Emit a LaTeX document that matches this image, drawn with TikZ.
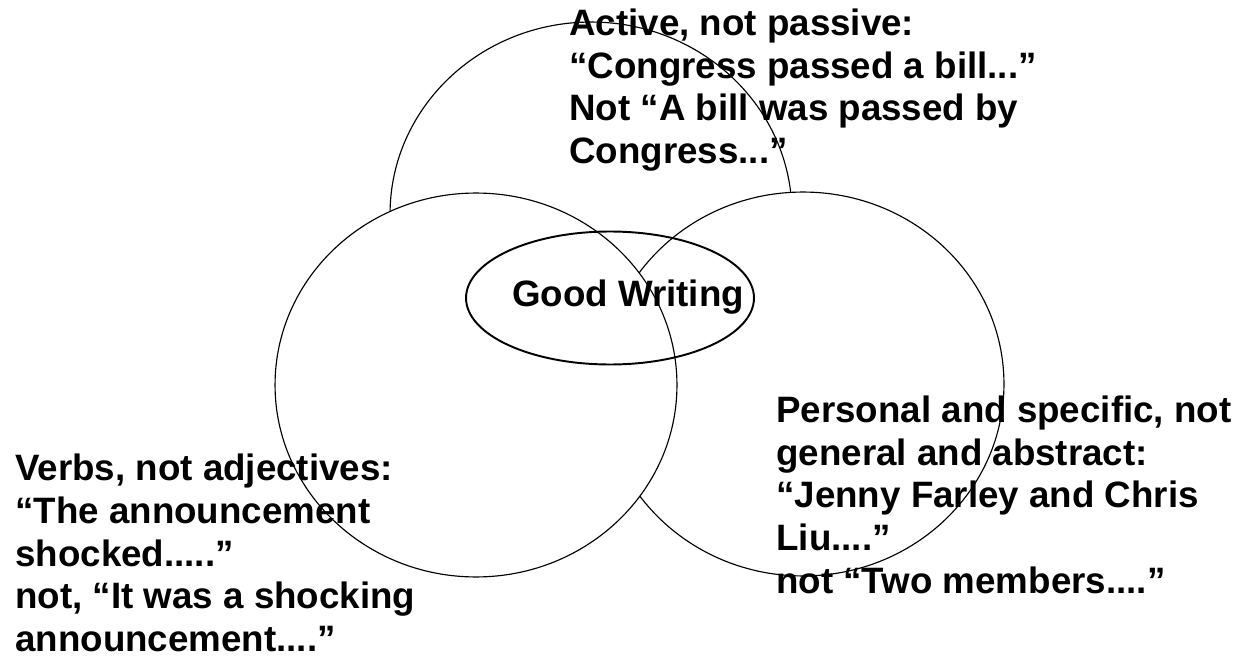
\documentclass[tikz,border=0pt]{standalone}
\usepackage{fontspec}
\usepackage{tikz}
\usetikzlibrary{shapes.geometric}
\newfontfamily\blurbfont{Liberation Sans Bold}

\begin{document}
\begin{tikzpicture}[x=0.02cm,y=-0.02cm]
    \tikzset{ring/.style={ellipse,draw=black,line width=0.65pt,fill=white,inner sep=0pt,minimum width=8.04cm,minimum height=7.68cm},
      blurb/.style={anchor=north west,align=left,inner sep=0pt,font=\blurbfont\fontsize{20.9}{24.2}\selectfont}}
    \useasboundingbox (0,0) rectangle (1250,658);
    % the three circles, the later ones hide the earlier ones
    \node[ring] (active) at (591,214) {};
    \node[ring] (personal) at (803,384) {};
    \node[ring] (verbs) at (476,385) {};
    \node[ellipse,draw=black,line width=1.1pt,inner sep=0pt,minimum width=5.76cm,minimum height=2.66cm] (good) at (610,298) {};
    \node[font=\blurbfont\fontsize{20.9}{24.2}\selectfont,anchor=base,inner sep=0pt] (goodtext) at (628,307) {Good Writing};
    % texts
    \node[blurb] (activetext) at (569,9)
      {Active, not passive:\\“Congress passed a bill...”\\Not “A bill was passed by\\Congress...”};
    \node[blurb] (personaltext) at (776,396)
      {Personal and specific, not\\general and abstract:\\“Jenny Farley and Chris\\Liu....”\\not “Two members....”};
    \node[blurb] (verbstext) at (15,454)
      {Verbs, not adjectives:\\“The announcement\\shocked.....”\\not, “It was a shocking\\announcement....”};
\end{tikzpicture}
\end{document}
